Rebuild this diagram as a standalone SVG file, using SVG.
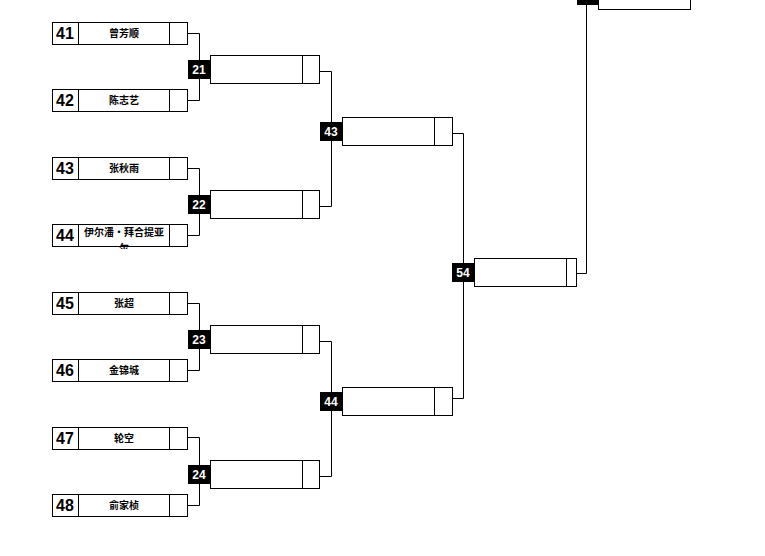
<svg xmlns="http://www.w3.org/2000/svg" width="765" height="556" viewBox="0 0 765 556">
<style>
.b{fill:#fff;stroke:#000;stroke-width:1}
.ln{fill:none;stroke:#000;stroke-width:1}
.num{font-family:"Liberation Sans",Arial,sans-serif;font-weight:bold;font-size:16px;text-anchor:middle;fill:#000}
.nm{font-family:"Noto Sans CJK SC","Liberation Sans",sans-serif;font-weight:bold;font-size:10px;text-anchor:middle;fill:#000}
.lb{fill:#000}
.lt{font-family:"Liberation Sans",Arial,sans-serif;font-weight:bold;font-size:12px;text-anchor:middle;fill:#fff}
</style>
<defs>
<clipPath id="c44"><rect x="78" y="224" width="91" height="25"/></clipPath>
</defs>
<rect width="765" height="556" fill="#fff"/>
<g id="connectors">
<path class="ln" d="M187.5 33.5H199.5V100.5H187.5"/>
<path class="ln" d="M187.5 168.5H199.5V235.5H187.5"/>
<path class="ln" d="M187.5 303.5H199.5V370.5H187.5"/>
<path class="ln" d="M187.5 437.5H199.5V505.5H187.5"/>
<path class="ln" d="M319.5 71.5H331.5V206.5H319.5"/>
<path class="ln" d="M319.5 341.5H331.5V476.5H319.5"/>
<path class="ln" d="M452.5 133.5H463.5V398.5H452.5"/>
<path class="ln" d="M576.5 273.5H586.5V0"/>
</g>
<g id="p41"><rect class="b" x="52.5" y="22.5" width="26" height="22"/><rect class="b" x="78.5" y="22.5" width="91" height="22"/><rect class="b" x="169.5" y="22.5" width="18" height="22"/><text class="num" x="65" y="39">41</text><text class="nm" x="124" y="37">曾芳顺</text></g>
<g id="p42"><rect class="b" x="52.5" y="89.5" width="26" height="22"/><rect class="b" x="78.5" y="89.5" width="91" height="22"/><rect class="b" x="169.5" y="89.5" width="18" height="22"/><text class="num" x="65" y="106">42</text><text class="nm" x="124" y="104">陈志艺</text></g>
<g id="p43"><rect class="b" x="52.5" y="157.5" width="26" height="22"/><rect class="b" x="78.5" y="157.5" width="91" height="22"/><rect class="b" x="169.5" y="157.5" width="18" height="22"/><text class="num" x="65" y="174">43</text><text class="nm" x="124" y="172">张秋雨</text></g>
<g id="p44"><rect class="b" x="52.5" y="224.5" width="26" height="22"/><rect class="b" x="78.5" y="224.5" width="91" height="22"/><rect class="b" x="169.5" y="224.5" width="18" height="22"/><text class="num" x="65" y="241">44</text><text class="nm" x="124" y="236">伊尔潘・拜合提亚</text><text class="nm" x="124" y="252" clip-path="url(#c44)">尔</text></g>
<g id="p45"><rect class="b" x="52.5" y="292.5" width="26" height="22"/><rect class="b" x="78.5" y="292.5" width="91" height="22"/><rect class="b" x="169.5" y="292.5" width="18" height="22"/><text class="num" x="65" y="309">45</text><text class="nm" x="124" y="307">张超</text></g>
<g id="p46"><rect class="b" x="52.5" y="359.5" width="26" height="22"/><rect class="b" x="78.5" y="359.5" width="91" height="22"/><rect class="b" x="169.5" y="359.5" width="18" height="22"/><text class="num" x="65" y="376">46</text><text class="nm" x="124" y="374">金锦城</text></g>
<g id="p47"><rect class="b" x="52.5" y="427.5" width="26" height="22"/><rect class="b" x="78.5" y="427.5" width="91" height="22"/><rect class="b" x="169.5" y="427.5" width="18" height="22"/><text class="num" x="65" y="444">47</text><text class="nm" x="124" y="442">轮空</text></g>
<g id="p48"><rect class="b" x="52.5" y="494.5" width="26" height="22"/><rect class="b" x="78.5" y="494.5" width="91" height="22"/><rect class="b" x="169.5" y="494.5" width="18" height="22"/><text class="num" x="65" y="511">48</text><text class="nm" x="124" y="509">俞家桢</text></g>
<g id="m21"><rect class="b" x="210.5" y="55.5" width="92" height="28"/><rect class="b" x="302.5" y="55.5" width="17" height="28"/><rect class="lb" x="188" y="60" width="22" height="19"/><text class="lt" x="199" y="74">21</text></g>
<g id="m22"><rect class="b" x="210.5" y="190.5" width="92" height="28"/><rect class="b" x="302.5" y="190.5" width="17" height="28"/><rect class="lb" x="188" y="195" width="22" height="19"/><text class="lt" x="199" y="209">22</text></g>
<g id="m23"><rect class="b" x="210.5" y="325.5" width="92" height="28"/><rect class="b" x="302.5" y="325.5" width="17" height="28"/><rect class="lb" x="188" y="330" width="22" height="19"/><text class="lt" x="199" y="344">23</text></g>
<g id="m24"><rect class="b" x="210.5" y="460.5" width="92" height="28"/><rect class="b" x="302.5" y="460.5" width="17" height="28"/><rect class="lb" x="188" y="465" width="22" height="19"/><text class="lt" x="199" y="479">24</text></g>
<g id="m43"><rect class="b" x="342.5" y="117.5" width="92" height="28"/><rect class="b" x="434.5" y="117.5" width="18" height="28"/><rect class="lb" x="320" y="122" width="22" height="19"/><text class="lt" x="331" y="136">43</text></g>
<g id="m44"><rect class="b" x="342.5" y="387.5" width="92" height="28"/><rect class="b" x="434.5" y="387.5" width="18" height="28"/><rect class="lb" x="320" y="392" width="22" height="19"/><text class="lt" x="331" y="406">44</text></g>
<g id="m54"><rect class="b" x="474.5" y="258.5" width="92" height="28"/><rect class="b" x="566.5" y="258.5" width="10" height="28"/><rect class="lb" x="452" y="263" width="22" height="19"/><text class="lt" x="463" y="277">54</text></g>
<g id="mtop"><rect class="b" x="598.5" y="-18.5" width="92" height="28"/><rect class="lb" x="577" y="-14" width="21" height="19"/></g>
</svg>
